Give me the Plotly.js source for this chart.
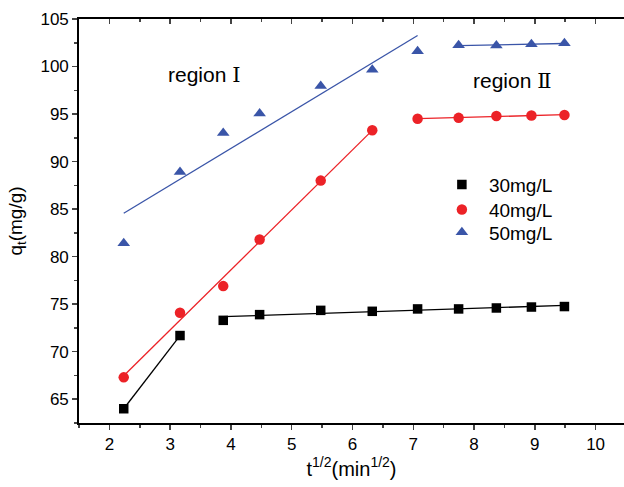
<!DOCTYPE html>
<html>
<head>
<meta charset="utf-8">
<script src="https://cdn.plot.ly/plotly-3.0.1.min.js"></script>
<style>html,body{margin:0;padding:0;overflow:hidden;background:#fff;}</style>
</head>
<body>
<div id="chart" style="width:624px;height:487px;"></div>
<script>
// sqrt(t) values, t = 5..90 min
const tHalf = [2.236, 3.162, 3.873, 4.472, 5.477, 6.325, 7.071, 7.746, 8.367, 8.944, 9.487];
const q30 = [64.0, 71.7, 73.3, 73.9, 74.35, 74.25, 74.5, 74.5, 74.6, 74.7, 74.75];
const q40 = [67.3, 74.1, 76.9, 81.8, 88.0, 93.3, 94.5, 94.6, 94.8, 94.85, 94.9];
const q50 = [81.4, 88.9, 93.0, 95.05, 97.95, 99.65, 101.6, 102.25, 102.2, 102.35, 102.45];
const seriesNames = ["30mg/L", "40mg/L", "50mg/L"];
// number of points in region I for each series (fit segments)
const regionISplit = [2, 6, 7];
const xTicks = [2, 3, 4, 5, 6, 7, 8, 9, 10];
const yTicks = [65, 70, 75, 80, 85, 90, 95, 100, 105];

const colors = ["#000000", "#ec2227", "#3a55a8"];
const symbols = ["square", "circle", "triangle-up"];
const sizes = [9.5, 10.5, 11];
const allQ = [q30, q40, q50];
const legendIds = ["legend", "legend2", "legend3"];
const legendY = [0.637, 0.575, 0.519];

function linfit(xs, ys) {
  const n = xs.length;
  const mx = xs.reduce((a, b) => a + b, 0) / n;
  const my = ys.reduce((a, b) => a + b, 0) / n;
  let sxy = 0, sxx = 0;
  for (let i = 0; i < n; i++) { sxy += (xs[i] - mx) * (ys[i] - my); sxx += (xs[i] - mx) ** 2; }
  const b = sxy / sxx, a = my - b * mx;
  return [xs[0], xs[n - 1]].map(x => a + b * x);
}

const traces = [];
allQ.forEach((q, k) => {
  const s = regionISplit[k];
  const segs = [[0, s], [s, q.length]];
  segs.forEach(([i0, i1]) => {
    const xs = tHalf.slice(i0, i1), ys = q.slice(i0, i1);
    traces.push({
      x: [xs[0], xs[xs.length - 1]], y: linfit(xs, ys),
      mode: "lines", line: {color: colors[k], width: 1.3},
      showlegend: false, hoverinfo: "skip"
    });
  });
});
allQ.forEach((q, k) => {
  traces.push({
    x: tHalf, y: q, name: seriesNames[k], mode: "markers", legend: legendIds[k],
    marker: {symbol: symbols[k], size: sizes[k], color: colors[k]}
  });
});
traces.push({x: [], y: [], xaxis: "x2", showlegend: false, hoverinfo: "skip"});

const fontFam = "Liberation Sans, Arial, sans-serif";
function legendCfg(y) {
  return {x: 0.653, y: y, xanchor: "left", yanchor: "top", itemwidth: 44,
          bgcolor: "rgba(0,0,0,0)", font: {size: 19, family: fontFam}};
}
const layout = {
  width: 624, height: 487,
  margin: {l: 79, r: 0, t: 19, b: 64},
  paper_bgcolor: "#fff", plot_bgcolor: "#fff",
  font: {family: fontFam, color: "#000", size: 17},
  showlegend: true,
  legend: legendCfg(legendY[0]),
  legend2: legendCfg(legendY[1]),
  legend3: legendCfg(legendY[2]),
  xaxis: {
    range: [1.5, 10.467], tickvals: xTicks, ticktext: xTicks.map(String),
    ticks: "outside", ticklen: 5, tickwidth: 1.5, showline: true, linewidth: 1.8, linecolor: "#000",
    showgrid: false, zeroline: false,
    minor: {dtick: 0.5, tick0: 0, ticks: "outside", ticklen: 3, tickwidth: 1.5},
    title: {text: "t<sup>1/2</sup>(min<sup>1/2</sup>)", font: {size: 20}, standoff: 7},
    tickfont: {size: 17}
  },
  xaxis2: {
    overlaying: "x", side: "top", anchor: "y", range: [1.5, 10.467],
    tickvals: xTicks, showticklabels: false,
    ticks: "inside", ticklen: 5, tickwidth: 1.5, showline: true, linewidth: 1.8, linecolor: "#000",
    showgrid: false, zeroline: false,
    minor: {dtick: 0.5, tick0: 0, ticks: "inside", ticklen: 3, tickwidth: 1.5}
  },
  yaxis: {
    range: [62.5, 105], tickvals: yTicks, ticktext: yTicks.map(String),
    ticks: "outside", ticklen: 5, tickwidth: 1.5, showline: true, linewidth: 1.8, linecolor: "#000",
    showgrid: false, zeroline: false,
    minor: {dtick: 2.5, tick0: 0, ticks: "outside", ticklen: 3, tickwidth: 1.5},
    title: {text: "q<sub>t</sub>(mg/g)", font: {size: 19}, standoff: 13},
    tickfont: {size: 17}
  },
  annotations: [
    {x: 3.57, y: 99.1, xref: "x", yref: "y", showarrow: false, font: {size: 21},
     text: "region <span style='font-family:DejaVu Serif'>Ⅰ</span>"},
    {x: 8.63, y: 98.5, xref: "x", yref: "y", showarrow: false, font: {size: 21},
     text: "region <span style='font-family:DejaVu Serif'>Ⅱ</span>"}
  ]
};
Plotly.newPlot("chart", traces, layout, {displayModeBar: false, staticPlot: true});
</script>
</body>
</html>
